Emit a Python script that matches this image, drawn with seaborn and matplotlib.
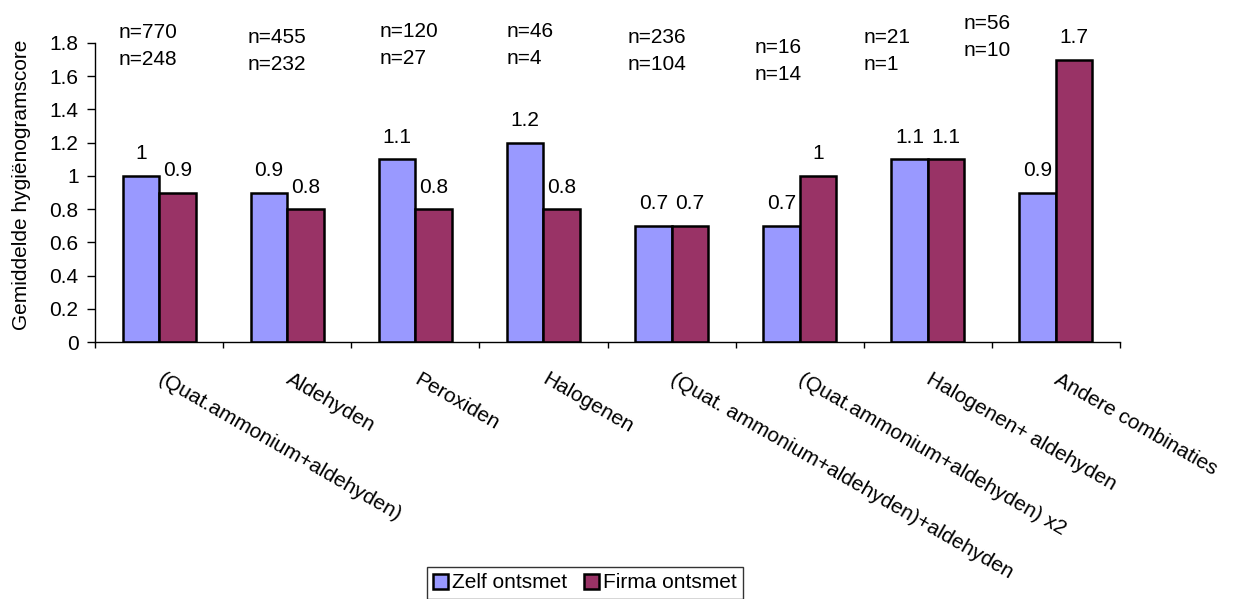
import matplotlib
matplotlib.use("Agg")
import matplotlib.pyplot as plt
from matplotlib.ticker import FuncFormatter, FixedLocator
from matplotlib.transforms import ScaledTranslation
import pandas as pd
import seaborn as sns

# Disinfectant groups and mean hygienogram scores per group
categories = [
    "(Quat.ammonium+aldehyden)",
    "Aldehyden",
    "Peroxiden",
    "Halogenen",
    "(Quat. ammonium+aldehyden)+aldehyden",
    "(Quat.ammonium+aldehyden) x2",
    "Halogenen+ aldehyden",
    "Andere combinaties",
]
series = ["Zelf ontsmet", "Firma ontsmet"]
zelf_scores = [1.0, 0.9, 1.1, 1.2, 0.7, 0.7, 1.1, 0.9]
firma_scores = [0.9, 0.8, 0.8, 0.8, 0.7, 1.0, 1.1, 1.7]
zelf_n = [770, 455, 120, 46, 236, 16, 21, 56]
firma_n = [248, 232, 27, 4, 104, 14, 1, 10]
y_ticks = [0, 0.2, 0.4, 0.6, 0.8, 1.0, 1.2, 1.4, 1.6, 1.8]

# Placement of the sample-size notes (data coordinates, baseline of first line)
n_note_x = [-0.32, 0.69, 1.72, 2.71, 3.66, 4.65, 5.50, 6.28]
n_note_y = [1.830, 1.798, 1.836, 1.836, 1.802, 1.742, 1.802, 1.883]
n_line_step = 0.162

colors = ["#9999FF", "#993366"]
FS = 15

sns.set_theme(style="white")
plt.rcParams["font.family"] = ["Liberation Sans", "DejaVu Sans"]
plt.rcParams.update({
    "text.color": "black",
    "axes.labelcolor": "black",
    "xtick.color": "black",
    "ytick.color": "black",
})

df = pd.DataFrame({
    "groep": categories * 2,
    "reeks": [series[0]] * len(categories) + [series[1]] * len(categories),
    "score": zelf_scores + firma_scores,
})

fig = plt.figure(figsize=(12.39, 5.99), dpi=100)
ax = fig.add_axes([95 / 1239, 1 - 342 / 599, (1120 - 95) / 1239, (342 - 43) / 599])

sns.barplot(
    data=df, x="groep", y="score", hue="reeks",
    order=categories, hue_order=series, palette=colors,
    width=0.57, gap=0, edgecolor="black", linewidth=1.8,
    saturation=1, errorbar=None, ax=ax,
)

# Value labels above each bar
for cont in ax.containers:
    ax.bar_label(cont, fmt="%g", padding=9, fontsize=FS, color="black")

# Sample sizes above each group
for i in range(len(categories)):
    ax.text(n_note_x[i], n_note_y[i], f"n={zelf_n[i]}", fontsize=FS,
            ha="left", va="baseline", clip_on=False)
    ax.text(n_note_x[i], n_note_y[i] - n_line_step, f"n={firma_n[i]}", fontsize=FS,
            ha="left", va="baseline", clip_on=False)

ax.set_ylim(0, 1.8)
ax.set_xlim(-0.5, len(categories) - 0.5)
ax.yaxis.set_major_locator(FixedLocator(y_ticks))
ax.yaxis.set_major_formatter(FuncFormatter(lambda v, p: f"{v:g}"))
ax.tick_params(axis="y", left=True, direction="out", length=5.8, width=1,
               pad=6, labelsize=FS)

# Category labels at group centres, tick marks between groups
ax.set_xticks(range(len(categories)))
ax.set_xticklabels(categories, rotation=-30, rotation_mode="anchor",
                   ha="left", va="top", fontsize=FS)
ax.tick_params(axis="x", which="major", bottom=True, length=0, pad=20)
ax.set_xticks([i - 0.5 for i in range(len(categories) + 1)], minor=True)
ax.tick_params(axis="x", which="minor", bottom=True, direction="out",
               length=4.3, width=1)
for lbl in ax.get_xticklabels():
    lbl.set_transform(lbl.get_transform() + ScaledTranslation(5 / 100, 0, fig.dpi_scale_trans))

ax.set_xlabel("")
ax.set_ylabel("Gemiddelde hygiënogramscore", fontsize=FS)
ax.yaxis.set_label_coords(-0.062, 0.525)

for side in ["top", "right"]:
    ax.spines[side].set_visible(False)
for side in ["left", "bottom"]:
    ax.spines[side].set_color("black")
    ax.spines[side].set_linewidth(1)

handles, labels = ax.get_legend_handles_labels()
ax.get_legend().remove()
leg = fig.legend(
    handles, labels, loc="center", bbox_to_anchor=(585 / 1239, 1 - 583 / 599),
    ncol=2, fontsize=FS, frameon=True, fancybox=False, edgecolor="black",
    handlelength=0.7, handleheight=0.7, handletextpad=0.2, columnspacing=0.8,
    borderpad=0.3, borderaxespad=0,
)
leg.get_frame().set_linewidth(1)

fig.savefig("out.png", dpi=100, facecolor="white")
